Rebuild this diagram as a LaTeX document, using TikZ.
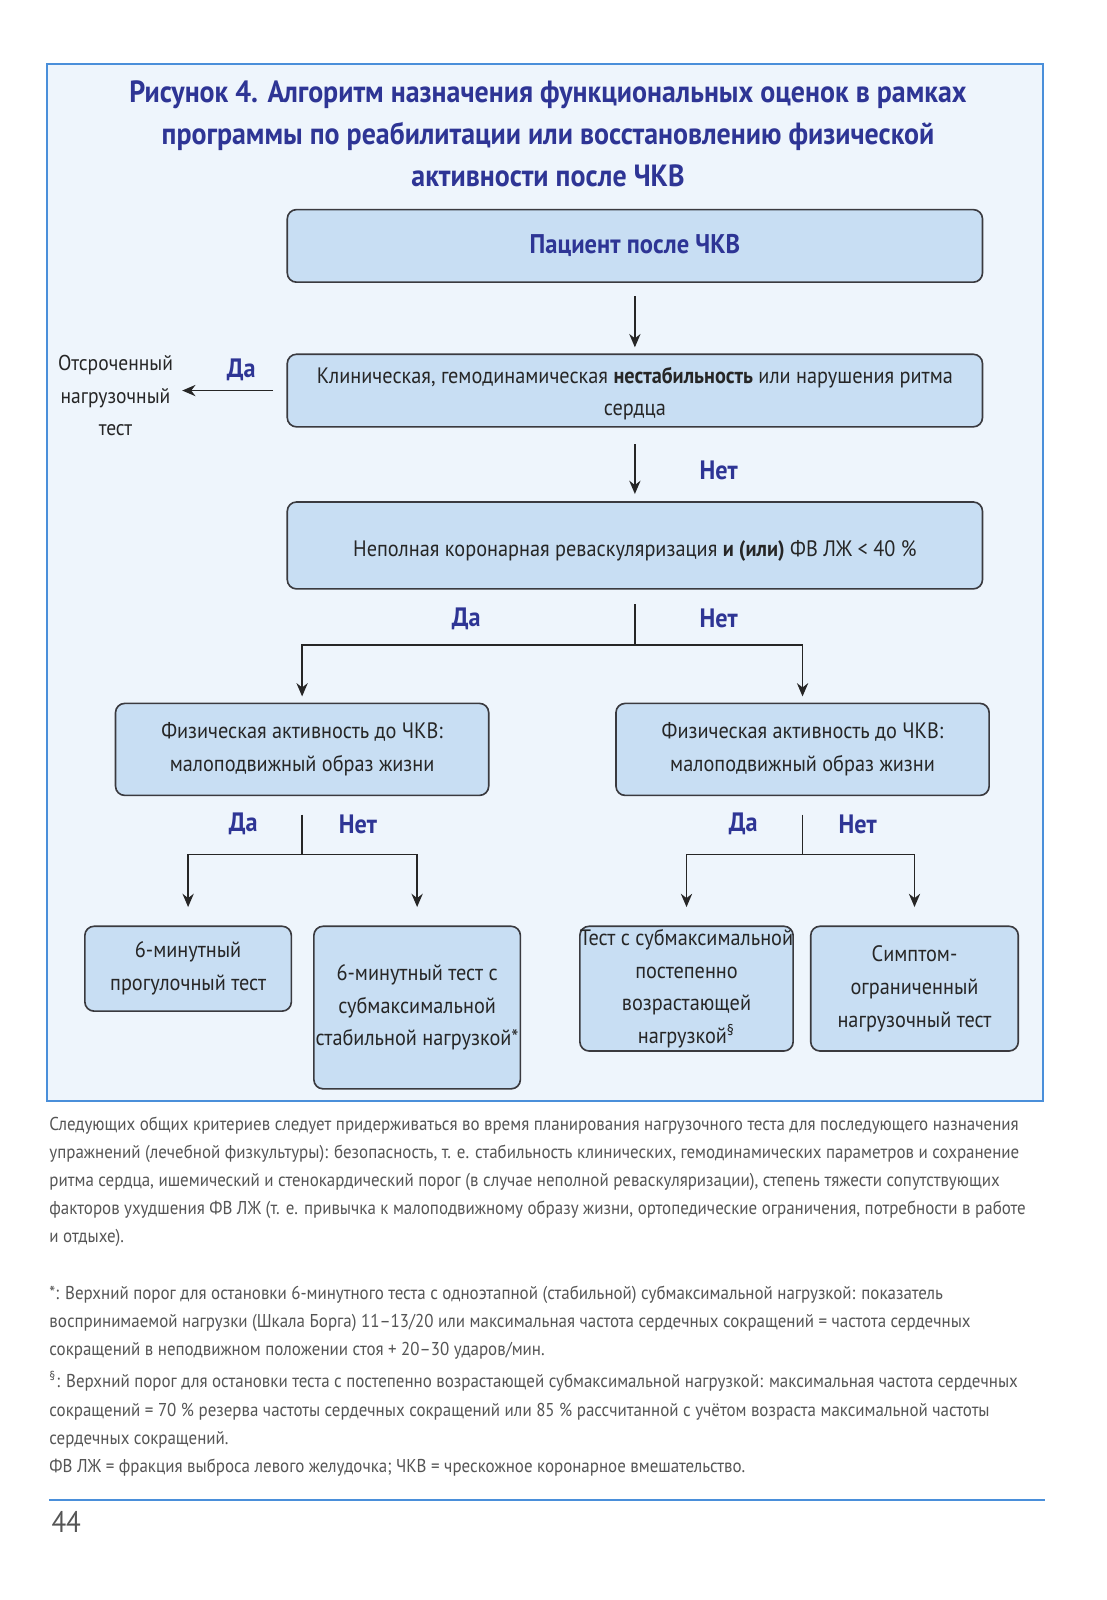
\documentclass[tikz,border=0pt]{standalone}
\usepackage{fontspec}
\setmainfont{PT Sans}[FakeStretch=0.91]
\usetikzlibrary{arrows.meta,positioning}
\definecolor{framebl}{HTML}{4A8FDA}
\definecolor{framefill}{HTML}{EEF5FC}
\definecolor{boxfill}{HTML}{C8DEF3}
\definecolor{boxline}{HTML}{3A3A3F}
\definecolor{titleblue}{HTML}{2E3595}
\definecolor{footgray}{HTML}{555555}

\begin{document}
\begin{tikzpicture}[x=0.5pt,y=-0.5pt,
    box/.style={draw=boxline, fill=boxfill, line width=0.8pt, rounded corners=4.5pt, align=center,
        inner sep=0pt, text=black!85, font=\fontsize{10.9}{16}\selectfont},
    answ/.style={text=titleblue, font=\bfseries\fontsize{13}{15}\selectfont},
    arr/.style={-{Stealth[length=6.5pt,width=5.5pt]}, line width=0.8pt, draw=black!85},
    lin/.style={line width=0.8pt, draw=black!85}]
    \fill[white] (0,0) rectangle (1082,1565);
    \useasboundingbox (0,0) rectangle (1082,1565);
    \draw[framebl, fill=framefill, line width=0.9pt] (46,63) rectangle (1020,1077);

    \node[font=\bfseries\fontsize{15}{20.5}\selectfont, text=titleblue, align=center] (title) at (536,131)
        {Рисунок 4. Алгоритм назначения функциональных оценок в рамках\\
         программы по реабилитации или восстановлению физической\\
         активности после ЧКВ};

    % boxes
    \node[box, minimum width=340pt, minimum height=35.5pt] (pat) at (621,240.5)
        {\bfseries\color{titleblue}\fontsize{13.2}{15}\selectfont Пациент после ЧКВ};
    \node[box, minimum width=340pt, minimum height=35.5pt] (instab) at (621,382)
        {\raisebox{-1.5pt}[\height][\depth]{Клиническая, гемодинамическая \textbf{нестабильность} или нарушения ритма}\\
         \raisebox{-1.5pt}[\height][\depth]{сердца}};
    \node[box, minimum width=340pt, minimum height=42.5pt] (irev) at (621,533.5)
        {\raisebox{-2.5pt}[\height][\depth]{Неполная коронарная реваскуляризация \textbf{и (или)} ФВ ЛЖ < 40 \%}};
    \node[box, minimum width=182.5pt, minimum height=45pt] (pa1) at (295.5,733)
        {Физическая активность до ЧКВ:\\ малоподвижный образ жизни};
    \node[box, minimum width=182.5pt, minimum height=45pt] (pa2) at (785,733)
        {Физическая активность до ЧКВ:\\ малоподвижный образ жизни};
    \node[box, minimum width=101pt, minimum height=41.5pt] (b1) at (184,947.5)
        {6-минутный\\ прогулочный тест};
    \node[box, minimum width=101pt, minimum height=79.5pt] (b2) at (408,985.5)
        {6-минутный тест с\\ субмаксимальной\\ стабильной нагрузкой*};
    \node[box, minimum width=101.5pt, minimum height=61pt] (b3) at (671.5,967)
        {Тест с субмаксимальной\\ постепенно\\ возрастающей\\ нагрузкой\textsuperscript{§}};
    \node[box, minimum width=101.5pt, minimum height=61pt] (b4) at (894.5,967)
        {Симптом-\\ ограниченный\\ нагрузочный тест};
    \node[align=center, text=black!85, font=\fontsize{10.5}{15.75}\selectfont] (delay) at (113,387)
        {Отсроченный\\ нагрузочный\\ тест};

    \foreach \n/\x/\y/\t in {yes0/236/362/Да, no0/703/460/Нет, yes1/456/605/Да, no1/703/605/Нет,
        yes2/238/806/Да, no2/350/806/Нет, yes3/727/806/Да, no3/839/806/Нет}
    \node[answ] (\n) at (\x,\y) {\t};

    % connectors
    \draw[arr, shorten <=6.5pt, shorten >=3pt] (pat) -- (instab);
    \draw[arr, shorten <=6.5pt, shorten >=1pt] (instab.west) -- (instab.west -| delay.east);
    \draw[arr, shorten <=8pt, shorten >=3.5pt] (instab) -- (irev);
    \coordinate (j1) at ([yshift=-27pt]irev.south);
    \draw[lin] ([yshift=-7pt]irev.south) -- (j1);
    \draw[arr, shorten >=3pt] (j1) -| (pa1);
    \draw[arr, shorten >=3pt] (j1) -| (pa2);
    \coordinate (j2) at ([yshift=-28.5pt]pa1.south);
    \coordinate (j3) at ([yshift=-28.5pt]pa2.south);
    \draw[lin] ([yshift=-9pt]pa1.south) -- (j2);
    \draw[lin] ([yshift=-9pt]pa2.south) -- (j3);
    \draw[arr, shorten >=9pt] (j2) -| (b1);
    \draw[arr, shorten >=9pt] (j2) -| (b2);
    \draw[arr, shorten >=9pt] (j3) -| (b3);
    \draw[arr, shorten >=9pt] (j3) -| (b4);

    % notes
    \node[anchor=north west, align=left, inner sep=0pt, text=footgray, font=\fontsize{9.1}{13.75}\selectfont] (notes) at (48,1092)
        {Следующих общих критериев следует придерживаться во время планирования нагрузочного теста для последующего назначения\\
         упражнений (лечебной физкультуры): безопасность, т. е. стабильность клинических, гемодинамических параметров и сохранение\\
         ритма сердца, ишемический и стенокардический порог (в случае неполной реваскуляризации), степень тяжести сопутствующих\\
         факторов ухудшения ФВ ЛЖ (т. е. привычка к малоподвижному образу жизни, ортопедические ограничения, потребности в работе\\
         и отдыхе).\\[13.75pt]
         *: Верхний порог для остановки 6-минутного теста с одноэтапной (стабильной) субмаксимальной нагрузкой: показатель\\
         воспринимаемой нагрузки (Шкала Борга) 11–13/20 или максимальная частота сердечных сокращений = частота сердечных\\
         сокращений в неподвижном положении стоя + 20–30 ударов/мин.\\[2.25pt]
         \textsuperscript{§}: Верхний порог для остановки теста с постепенно возрастающей субмаксимальной нагрузкой: максимальная частота сердечных\\
         сокращений = 70 \% резерва частоты сердечных сокращений или 85 \% рассчитанной с учётом возраста максимальной частоты\\
         сердечных сокращений.\\
         ФВ ЛЖ = фракция выброса левого желудочка; ЧКВ = чрескожное коронарное вмешательство.};
    \draw[framebl, line width=0.9pt] (48,1467) -- (1022,1467);
    \node[anchor=west, inner sep=0pt, text=footgray, font=\fontsize{14.5}{16}\selectfont] (pnum) at (50,1489) {44};
\end{tikzpicture}
\end{document}
